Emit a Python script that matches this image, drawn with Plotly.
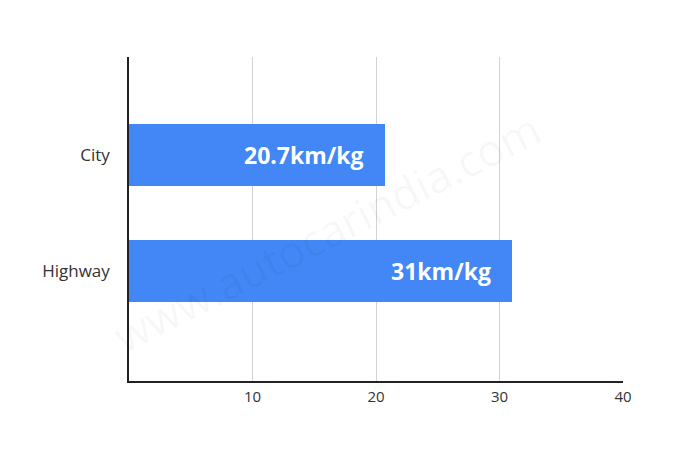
import plotly.graph_objects as go

categories = ["Highway", "City"]
values = [31, 20.7]
labels = ["31km/kg", "20.7km/kg"]
tick_vals = [10, 20, 30, 40]
tick_text = ["10", "20", "30", "40"]

fig = go.Figure()
fig.add_trace(go.Bar(
    x=values, y=categories, orientation="h",
    marker=dict(color="#4287f5", line=dict(width=0)),
    width=0.534, hoverinfo="skip",
))

for v, c, t in zip(values, categories, labels):
    fig.add_annotation(x=v, y=c, text=t, showarrow=False, xanchor="right",
                       xshift=-19, font=dict(family="Open Sans", size=23, color="white", weight="bold"))

fig.add_annotation(x=0.4, y=0.46, xref="paper", yref="paper", text="www.autocarindia.com",
                   showarrow=False, textangle=-27,
                   font=dict(family="Open Sans", size=44, color="rgba(0,0,0,0.04)"))

fig.update_layout(
    width=700, height=464,
    margin=dict(l=121, r=85, t=49, b=91),
    paper_bgcolor="white", plot_bgcolor="white",
    showlegend=False,
    bargap=0,
    xaxis=dict(range=[0, 40], tickvals=tick_vals, ticktext=tick_text,
               showgrid=True, gridcolor="#d3d3d3", gridwidth=1.3,
               showline=True, linecolor="#222", linewidth=1.5,
               ticks="outside", ticklen=1, tickcolor="rgba(0,0,0,0)",
               tickfont=dict(family="Open Sans", size=15, color="#333"),
               zeroline=False, fixedrange=True),
    yaxis=dict(type="category", categoryorder="array", categoryarray=categories,
               range=[-0.948, 1.845],
               showgrid=False, showline=True, linecolor="#222", linewidth=1.5,
               ticks="outside", ticklen=14, tickcolor="rgba(0,0,0,0)",
               tickfont=dict(family="Open Sans", size=17, color="#333"),
               zeroline=False, fixedrange=True),
)

fig.write_html("out.html")
